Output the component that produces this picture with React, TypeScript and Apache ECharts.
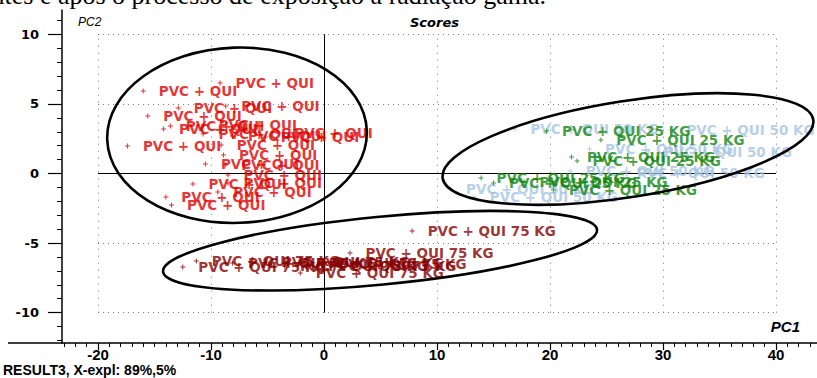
import React, { useEffect, useRef } from "react";
import * as echarts from "echarts";

// Sample groups and their colours
const GROUP_NAMES = ["PVC + QUI 50 KG", "PVC + QUI 25 KG", "PVC + QUI", "PVC + QUI 75 KG"];
const GROUP_COLORS = ["#a6c3e3", "#108510", "#e00000", "#850000"];

// PCA scores [PC1, PC2]
const scores50KG: [number, number][] = [
  [16.9, 3.2], [30.7, 3.13], [23.5, 1.76], [28.7, 1.54],
  [21.8, 0.18], [26.3, 0.04], [11.2, -1.11], [13.3, -1.69],
];
const scores25KG: [number, number][] = [
  [19.7, 3.05], [24.5, 2.41], [21.9, 1.19], [22.4, 0.9],
  [13.9, -0.32], [15.0, -0.68], [17.7, -0.61], [20.3, -1.19],
];
const scores0KG: [number, number][] = [
  [-16.0, 5.93], [-9.2, 6.5], [-15.6, 4.13], [-12.9, 4.71], [-8.7, 4.85],
  [-14.2, 3.2], [-13.6, 3.41], [-10.7, 2.84], [-8.1, 2.69], [-5.2, 2.62],
  [-4.0, 2.91], [-17.4, 1.98], [-9.1, 2.05], [-8.9, 1.33], [-10.5, 0.68],
  [-8.7, 0.61], [-8.5, -0.11], [-11.6, -0.75], [-8.5, -0.68], [-9.4, -1.33],
  [-14.0, -1.69], [-13.5, -2.26], [-10.7, 3.48],
];
const scores75KG: [number, number][] = [
  [7.8, -4.13], [2.3, -5.71], [-11.3, -6.29], [-12.5, -6.72], [-8.1, -6.43],
  [-5.1, -6.36], [-3.5, -6.65], [-2.1, -6.43], [-1.0, -6.65], [-0.1, -6.5],
  [-2.1, -7.15],
];

// Axis ticks
const X_TICKS = [-20, -10, 0, 10, 20, 30, 40];
const Y_TICKS = [-10, -5, 0, 5, 10];
const X_RANGE = [-23.19, 43.63];
const Y_RANGE = [-12.18, 11.75];

// Group outlines: centre and radii in score units, tilt in degrees
const OUTLINES = [
  { cx: -7.7, cy: 2.75, rx: 11.5, ry: 6.3, tilt: 2 },
  { cx: 26.9, cy: 1.76, rx: 16.6, ry: 3.45, tilt: 9 },
  { cx: 4.96, cy: -5.55, rx: 19.3, ry: 2.44, tilt: 5.5 },
];

const PLUS = "path://M2,0H3V2H5V3H3V5H2V3H0V2H2Z";

function intRange(a: number, b: number) {
  const out: number[] = [];
  for (let v = Math.ceil(a); v <= Math.floor(b); v++) out.push(v);
  return out;
}

export default function App() {
  const ref = useRef<HTMLDivElement>(null);

  useEffect(() => {
    document.body.style.margin = "0";
    const chart = echarts.init(ref.current!, null, { renderer: "svg" });

    const dotted = { color: "#7a7a7a", width: 1, type: [1, 4] as number[] };
    const dottedV = { color: "#7a7a7a", width: 1, type: [1, 6] as number[] };
    const solid = { color: "#000", width: 1, type: "solid" as const };
    const gridLines: any[] = [];
    for (const y of Y_TICKS) {
      gridLines.push([
        { coord: [-20, y], lineStyle: y === 0 ? solid : dotted },
        { coord: [40, y] },
      ]);
    }
    for (const x of X_TICKS) {
      gridLines.push([
        { coord: [x, -10], lineStyle: x === 0 ? solid : dottedV },
        { coord: [x, 10] },
      ]);
    }

    const groups = [scores50KG, scores25KG, scores0KG, scores75KG];
    const series: any[] = groups.map((data, i) => ({
      type: "scatter",
      name: GROUP_NAMES[i],
      data,
      symbol: PLUS,
      symbolSize: 5,
      itemStyle: { color: GROUP_COLORS[i] },
      label: {
        show: true,
        position: "right",
        distance: 13,
        formatter: GROUP_NAMES[i],
        color: GROUP_COLORS[i],
        fontFamily: "DejaVu Sans",
        fontWeight: "bold",
        fontSize: 13.5,
      },
      labelLayout: { hideOverlap: false },
      emphasis: { disabled: true },
      silent: true,
      z: 3 + i,
    }));
    series[0].markLine = {
      silent: true,
      symbol: ["none", "none"],
      label: { show: false },
      data: gridLines,
      z: 1,
    };

    const axisBase = {
      type: "value",
      min: X_RANGE[0],
      max: X_RANGE[1],
      splitLine: { show: false },
    };

    chart.setOption({
      animation: false,
      grid: { left: 62, right: 0, top: 10, bottom: 35 },
      xAxis: [
        {
          ...axisBase,
          position: "bottom",
          axisLine: { show: true, onZero: false, lineStyle: { color: "#000", width: 1.5 } },
          axisTick: { show: true, customValues: X_TICKS, length: 7, lineStyle: { color: "#000", width: 1.2 } },
          axisLabel: {
            customValues: X_TICKS,
            margin: 4,
            color: "#000",
            fontFamily: "Liberation Sans",
            fontWeight: "bold",
            fontSize: 15,
          },
        },
        {
          ...axisBase,
          position: "bottom",
          axisLine: { show: false, onZero: false },
          axisTick: { show: true, customValues: intRange(X_RANGE[0], X_RANGE[1]), length: 4, lineStyle: { color: "#000", width: 1 } },
          axisLabel: { show: false },
        },
      ],
      yAxis: [
        {
          type: "value",
          min: Y_RANGE[0],
          max: Y_RANGE[1],
          position: "left",
          splitLine: { show: false },
          axisLine: { show: true, onZero: false, lineStyle: { color: "#000", width: 1.5 } },
          axisTick: { show: true, customValues: Y_TICKS, length: 14, lineStyle: { color: "#000", width: 1.2 } },
          axisLabel: {
            customValues: Y_TICKS,
            margin: 23,
            color: "#000",
            fontFamily: "DejaVu Sans",
            fontWeight: "bold",
            fontSize: 13,
          },
        },
        {
          type: "value",
          min: Y_RANGE[0],
          max: Y_RANGE[1],
          position: "left",
          splitLine: { show: false },
          axisLine: { show: false, onZero: false },
          axisTick: { show: true, customValues: intRange(Y_RANGE[0], Y_RANGE[1]), length: 5, lineStyle: { color: "#000", width: 1 } },
          axisLabel: { show: false },
        },
      ],
      series,
    });

    const toPx = (x: number, y: number) =>
      chart.convertToPixel({ gridIndex: 0 }, [x, y]) as number[];

    const outlines = OUTLINES.map((o) => {
      const c = toPx(o.cx, o.cy);
      const ex = toPx(o.cx + o.rx, o.cy);
      const ey = toPx(o.cx, o.cy + o.ry);
      return {
        type: "ellipse",
        x: c[0],
        y: c[1],
        rotation: (o.tilt * Math.PI) / 180,
        shape: { cx: 0, cy: 0, rx: Math.abs(ex[0] - c[0]), ry: Math.abs(ey[1] - c[1]) },
        style: { fill: "none", stroke: "#000", lineWidth: 2.6 },
        silent: true,
        z: 50,
      };
    });

    const corner = toPx(X_RANGE[0], Y_RANGE[0]);

    chart.setOption({
      graphic: [
        ...outlines,
        {
          type: "line",
          shape: { x1: 8, y1: corner[1], x2: corner[0], y2: corner[1] },
          style: { stroke: "#000", lineWidth: 1.5 },
          silent: true,
        },
        {
          type: "text",
          x: -20,
          y: -5,
          style: {
            text: "antes e após o processo de exposição à radiação gama.",
            font: '26px "Liberation Serif", serif',
            fill: "#000",
            verticalAlign: "middle",
          },
          silent: true,
        },
        {
          type: "text",
          x: 78,
          y: 22,
          style: { text: "PC2", font: 'italic 12px "Liberation Sans"', fill: "#000", verticalAlign: "middle" },
          silent: true,
        },
        {
          type: "text",
          x: 410,
          y: 22,
          style: { text: "Scores", font: 'italic bold 13px "DejaVu Sans"', fill: "#000", verticalAlign: "middle" },
          silent: true,
        },
        {
          type: "text",
          x: 800,
          y: 326,
          style: { text: "PC1", font: 'italic bold 15px "Liberation Sans"', fill: "#000", verticalAlign: "middle", align: "right" },
          silent: true,
        },
        {
          type: "text",
          x: 3,
          y: 370,
          style: { text: "RESULT3, X-expl: 89%,5%", font: 'bold 14px "Liberation Sans"', fill: "#000", verticalAlign: "middle" },
          silent: true,
        },
      ],
    });

    return () => chart.dispose();
  }, []);

  return <div ref={ref} style={{ width: 817, height: 378 }} />;
}
